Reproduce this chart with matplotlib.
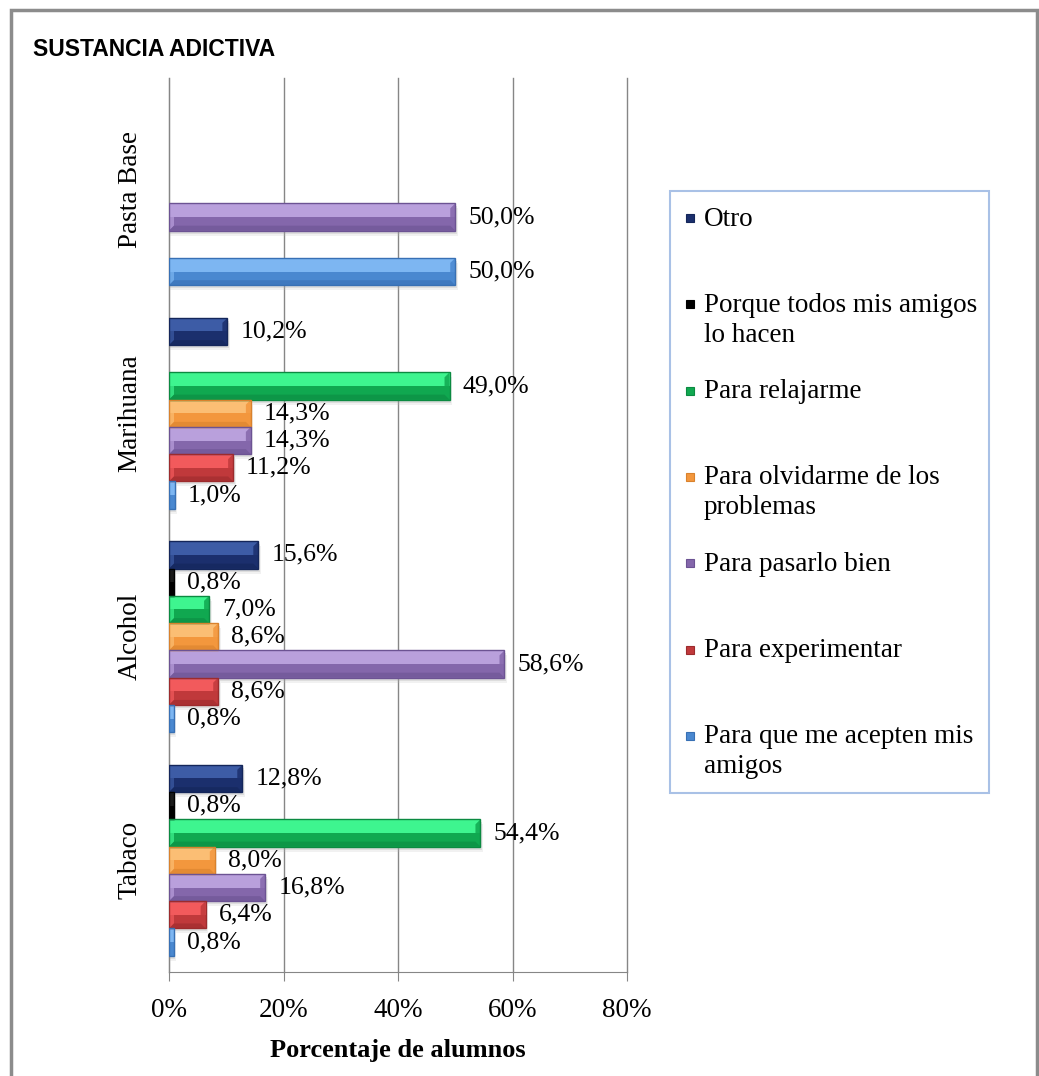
import numpy as np
import matplotlib
matplotlib.use('Agg')
import matplotlib.pyplot as plt
from matplotlib.patches import Rectangle

# Data (percent of students), None = no bar
categories = ['Tabaco', 'Alcohol', 'Marihuana', 'Pasta Base']
series = ['Otro', 'Porque todos mis amigos\nlo hacen', 'Para relajarme',
          'Para olvidarme de los\nproblemas', 'Para pasarlo bien',
          'Para experimentar', 'Para que me acepten mis\namigos']
otro = [12.8, 15.6, 10.2, None]
porque = [0.8, 0.8, None, None]
relajarme = [54.4, 7.0, 49.0, None]
olvidarme = [8.0, 8.6, 14.3, None]
pasarlo = [16.8, 58.6, 14.3, 50.0]
experimentar = [6.4, 8.6, 11.2, None]
acepten = [0.8, 0.8, 1.0, 50.0]
values = [otro, porque, relajarme, olvidarme, pasarlo, experimentar, acepten]
xticks = [0, 20, 40, 60, 80]

# (light top, dark bottom, edge)
colors = [('#3d5ca6', '#1b2f6d', '#14265a'),
          ('#1a1a1a', '#000000', '#000000'),
          ('#3ef58f', '#10a850', '#0b8a41'),
          ('#fbbe74', '#f3973d', '#d9822d'),
          ('#b9a0dc', '#8467ab', '#6c5393'),
          ('#f25a5c', '#c0393b', '#9c2b2d'),
          ('#7db6f2', '#4a88d0', '#3870b4')]

serif = 'Liberation Serif'
W, H = 1039, 1076
fig = plt.figure(figsize=(W / 100, H / 100), dpi=100)
ax = fig.add_axes([169 / W, 1 - 972 / H, 458 / W, 894 / H])

h = 0.122
px_x = 80 / 458      # data units per pixel (x)
px_y = 4 / 894       # data units per pixel (y)
bx, by = 5 * px_x, 5 * px_y

for j, (vals, (c_top, c_bot, c_edge)) in enumerate(zip(values, colors)):
    off = (3 - j) * h
    for i, v in enumerate(vals):
        if v is None:
            continue
        yc = i + off
        y0, y1 = yc - h / 2, yc + h / 2
        # soft shadow
        ax.barh(yc - 3 * px_y, v + 1.5 * px_x, height=h, color='#9a9a9a', alpha=0.25, zorder=1, lw=0)
        ax.barh(yc - 5 * px_y, v + 2.5 * px_x, height=h, color='#bdbdbd', alpha=0.2, zorder=1, lw=0)
        # body: light upper half, dark lower half
        ax.barh(yc - h / 4, v, height=h / 2, color=c_bot, zorder=3, lw=0)
        ax.barh(yc + h / 4, v, height=h / 2, color=c_top, zorder=3, lw=0)
        if v > 3 * bx:
            ax.fill([v, v, v - bx, v - bx], [y0, y1, y1 - by, y0 + by], color=c_bot, zorder=4, lw=0, alpha=0.85)
            ax.fill([0, 0, bx, bx], [y0, y1, y1 - by, y0 + by], color=c_top, zorder=4, lw=0, alpha=0.7)
            ax.fill([0, v, v - bx, bx], [y0, y0, y0 + by, y0 + by], color=c_edge, zorder=4, lw=0, alpha=0.6)
        ax.barh(yc, v, height=h, facecolor='none', edgecolor=c_edge, lw=1, zorder=5)
        ax.annotate(f'{v:.1f}%'.replace('.', ','), xy=(v, yc), xytext=(13, 0),
                    textcoords='offset pixels', va='center', ha='left',
                    fontsize=18.5, family=serif, zorder=6)

ax.set_xlim(0, 80)
ax.set_ylim(-0.5, 3.5)
ax.set_xticks(xticks)
ax.set_xticklabels([f'{t}%' for t in xticks], fontsize=19.5, family=serif)
ax.set_yticks(range(len(categories)))
ax.set_yticklabels(categories, rotation=90, fontsize=19.5, family=serif, va='center')
ax.tick_params(axis='y', length=0, pad=19)
ax.tick_params(axis='x', length=6.5, pad=12, color='#868686')
ax.grid(axis='x', color='#868686', lw=1, zorder=0)
for g in ax.get_xgridlines():
    g.set_clip_on(False)
ax.set_axisbelow(True)
for s in ['top', 'right']:
    ax.spines[s].set_visible(False)
for s in ['left', 'bottom']:
    ax.spines[s].set_color('#868686')

fig.text(33 / W, 1 - 50 / H, 'SUSTANCIA ADICTIVA', fontsize=16.5, weight='bold',
         family='Liberation Sans', va='center', ha='left')
fig.text(398 / W, 1 - 1050 / H, 'Porcentaje de alumnos', fontsize=19, weight='bold',
         family=serif, va='center', ha='center')

# manual legend
fig.patches.append(Rectangle((670 / W, 1 - 793 / H), 319 / W, 602 / H, transform=fig.transFigure,
                             facecolor='white', edgecolor='#a9c1e6', lw=1.5, zorder=0))
for j, (name, (c_top, c_bot, c_edge)) in enumerate(zip(series, colors)):
    ypx = 219 + 86.3 * j
    fig.patches.append(Rectangle((686 / W, 1 - (ypx + 3) / H), 8 / W, 8 / H, transform=fig.transFigure,
                                 facecolor=c_bot, edgecolor=c_edge, lw=0.8))
    for k, line in enumerate(name.split('\n')):
        fig.text(704 / W, 1 - (ypx + 30 * k) / H, line, fontsize=19.5, family=serif,
                 va='center', ha='left')

# outer frame
fig.patches.append(Rectangle((11 / W, -0.01), 1026 / W, 1.01 - 10 / H, transform=fig.transFigure,
                             facecolor='none', edgecolor='#8c8c8c', lw=2.5))

fig.savefig('out.png', dpi=100)
